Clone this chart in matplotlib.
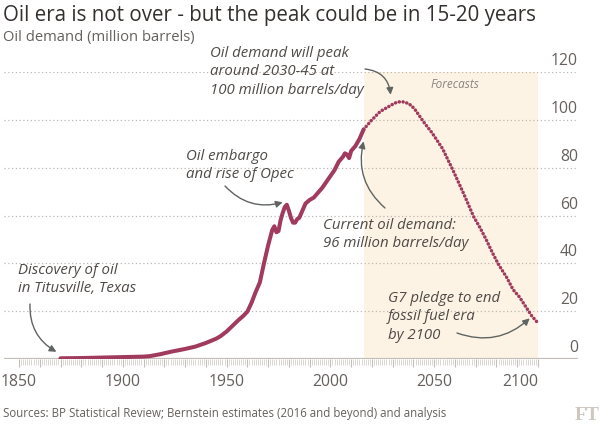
import matplotlib
matplotlib.use("Agg")
import matplotlib.pyplot as plt
import matplotlib.transforms as mtransforms
import numpy as np

# historical oil demand (million barrels/day)
hist_years = [1870, 1880, 1890, 1900, 1910, 1913, 1918, 1923, 1930, 1935, 1940,
              1945, 1947, 1950, 1953, 1956, 1958, 1960, 1962, 1964, 1966, 1968,
              1970, 1972, 1973, 1974, 1975, 1976, 1977, 1978, 1979, 1980, 1981,
              1982, 1983, 1984, 1985, 1986, 1988, 1990, 1992, 1994, 1996, 1998,
              2000, 2002, 2004, 2006, 2007, 2008, 2009, 2010, 2012, 2014, 2015,
              2016]
hist_values = [0.3, 0.4, 0.6, 0.8, 1.0, 1.2, 2.0, 3.0, 4.2, 5.2, 6.7,
               8.5, 9.5, 11.5, 14.0, 16.5, 18.0, 19.8, 23.5, 28.0, 32.0, 40.0,
               47.5, 54.0, 55.5, 53.0, 53.5, 58.0, 61.0, 63.5, 64.5, 62.0, 59.0,
               57.0, 57.0, 58.5, 59.0, 61.0, 65.0, 66.5, 67.5, 69.5, 71.5, 74.0,
               76.5, 79.0, 82.5, 84.5, 86.0, 85.5, 84.0, 87.0, 89.0, 92.0, 94.0,
               96.0]

# Bernstein forecast
fcst_years = [2016, 2020, 2024, 2029, 2031, 2033, 2035, 2037, 2039, 2041, 2043,
              2045, 2049, 2054, 2059, 2064, 2069, 2072, 2075, 2078, 2081, 2085,
              2088, 2091, 2094, 2097, 2100]
fcst_values = [96.0, 100.0, 103.5, 106.0, 107.0, 107.5, 107.5, 107.0, 106.0, 104.0,
               101.5, 99.0, 94.5, 88.0, 79.0, 69.5, 59.5, 55.0, 50.0, 44.5, 39.5,
               34.0, 29.0, 26.0, 22.0, 18.0, 15.0]

forecast_start = 2016
forecast_end = 2100

x_label_years = [1850, 1900, 1950, 2000, 2050, 2100]
y_ticks = [0, 20, 40, 60, 80, 100, 120]

W, H = 602, 426
LINE = "#a03b5e"
TEXT = "#4f4a47"
GREY = "#66605c"
ARROW = "#5f6461"

plt.rcParams["font.family"] = ["Open Sans", "DejaVu Sans"]

fig = plt.figure(figsize=(W / 100, H / 100), dpi=100)
fig.patch.set_facecolor("white")

# axes: 1850 sits at x=19px, 2100 at 538px, y=0 at 359px, y=120 at 72px
ppy = (538 - 19) / 250.0
x0 = 1850 - (19 - 4) / ppy
x1 = 1850 + (578 - 19) / ppy
ax = fig.add_axes([4 / W, (H - 359) / H, 574 / W, 287 / H])
ax.set_xlim(x0, x1)
ax.set_ylim(0, 120)
ax.set_facecolor("none")
for s in ax.spines.values():
    s.set_visible(False)

# forecast shading
ax.axvspan(forecast_start, forecast_end, ymin=0, ymax=1, color="#fcf3e4", lw=0, zorder=0)
ax.text(2060, 114.8, "Forecasts", ha="center", va="center", fontsize=8.5,
        style="italic", color="#8a8480")

# dotted gridlines + labels on the right
yt = mtransforms.blended_transform_factory(ax.transAxes, ax.transData)
for v in y_ticks:
    if v > 0:
        ax.axhline(v, color="#bdb8b2", lw=0.9, ls=(0, (1, 2)), zorder=1)
    ax.text(1.0, v + 1.2, str(v), transform=yt, ha="right", va="bottom",
            fontsize=11.3, color=GREY)
ax.axhline(0, color="#c4beb8", lw=1.6, zorder=2)

# x ticks: every year minor, every decade major
ax.set_xticks(np.arange(1850, 2101, 10))
ax.set_xticks(np.arange(1850, 2101, 1), minor=True)
ax.set_xticklabels([str(y) if y in x_label_years else "" for y in range(1850, 2101, 10)])
ax.tick_params(axis="x", which="major", length=6, width=0.8, color="#c4beb8",
               labelsize=11.3, labelcolor=GREY, pad=5)
ax.tick_params(axis="x", which="minor", length=4.5, width=0.6, color="#d6d1cc")
for lab in ax.get_xticklabels():
    if lab.get_text() == "2100":
        lab.set_horizontalalignment("right")
ax.set_yticks([])

# the data
ax.plot(hist_years, hist_values, color=LINE, lw=2.9, solid_capstyle="round",
        solid_joinstyle="round", zorder=4)
ax.plot(fcst_years, fcst_values, color=LINE, lw=2.5, ls=(0, (0.05, 1.05)),
        dash_capstyle="round", zorder=4)

# titles and footer
fig.text(3 / W, 1 - 15 / H, "Oil era is not over - but the peak could be in 15-20 years",
         fontsize=14.8, color="#33302e", va="center", ha="left")
fig.text(3 / W, 1 - 37 / H, "Oil demand (million barrels)", fontsize=10.6,
         color=GREY, va="center", ha="left")
fig.text(3 / W, 1 - 414 / H,
         "Sources: BP Statistical Review; Bernstein estimates (2016 and beyond) and analysis",
         fontsize=8.3, color=GREY, va="center", ha="left")
fig.text(600 / W, 1 - 415 / H, "FT", fontsize=14, fontweight="bold",
         family="Liberation Serif", color="#cdc7c0", va="center", ha="right")


def note(x, y, txt):
    fig.text(x / W, 1 - y / H, txt, fontsize=10.8, style="italic", color=TEXT,
             ha="left", va="top", linespacing=1.3)


def arrow(target, start, rad):
    ax.annotate("", xy=target, xycoords="data", xytext=(start[0], H - start[1]),
                textcoords="figure pixels", annotation_clip=False,
                arrowprops=dict(arrowstyle="-|>", connectionstyle="arc3,rad=%s" % rad,
                                color=ARROW, lw=1.0, mutation_scale=10,
                                shrinkA=0, shrinkB=0))


note(210, 46, "Oil demand will peak\naround 2030-45 at\n100 million barrels/day")
arrow((2029, 110.5), (365, 69), -0.4)

note(186, 149, "Oil embargo\nand rise of Opec")
arrow((1977, 65.5), (225, 186), 0.3)

note(323, 218, "Current oil demand:\n96 million barrels/day")
arrow((2016, 91), (385, 208), -0.3)

note(18, 263, "Discovery of oil\nin Titusville, Texas")
arrow((1868, 3), (30, 304), 0.3)

note(388, 291, "G7 pledge to end\nfossil fuel era\nby 2100")
arrow((2096, 17), (457, 333), 0.3)

fig.savefig("out.png", dpi=100, facecolor="white")
